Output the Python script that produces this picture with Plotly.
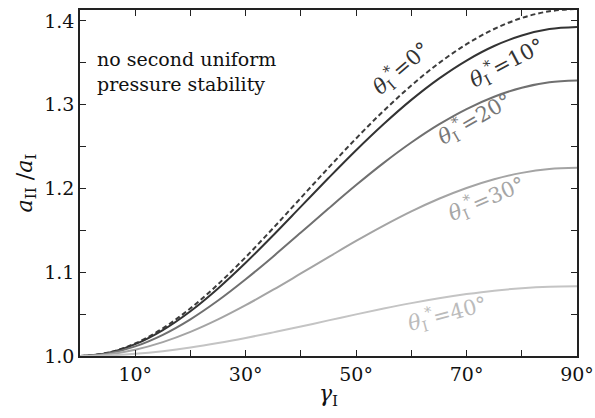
import plotly.graph_objects as go

gamma = [0, 5, 10, 15, 20, 25, 30, 35, 40, 45, 50, 55, 60, 65, 70, 75, 80, 85, 90]

ratio_theta0 = [1.0000, 1.0038, 1.0150, 1.0330, 1.0569, 1.0856, 1.1180, 1.1528, 1.1888, 1.2247,
                1.2597, 1.2927, 1.3229, 1.3496, 1.3722, 1.3903, 1.4035, 1.4115, 1.4142]
ratio_theta10 = [1.0000, 1.0036, 1.0141, 1.0310, 1.0535, 1.0807, 1.1113, 1.1442, 1.1783, 1.2124,
                 1.2456, 1.2769, 1.3057, 1.3311, 1.3527, 1.3700, 1.3825, 1.3902, 1.3927]
ratio_theta20 = [1.0000, 1.0029, 1.0115, 1.0253, 1.0438, 1.0662, 1.0916, 1.1189, 1.1474, 1.1760,
                 1.2040, 1.2305, 1.2548, 1.2764, 1.2948, 1.3095, 1.3202, 1.3267, 1.3289]
ratio_theta30 = [1.0000, 1.0019, 1.0075, 1.0166, 1.0288, 1.0437, 1.0607, 1.0791, 1.0985, 1.1180,
                 1.1373, 1.1556, 1.1726, 1.1877, 1.2006, 1.2110, 1.2186, 1.2232, 1.2247]
ratio_theta40 = [1.0000, 1.0007, 1.0026, 1.0058, 1.0101, 1.0154, 1.0215, 1.0282, 1.0352, 1.0425,
                 1.0497, 1.0566, 1.0631, 1.0689, 1.0739, 1.0780, 1.0809, 1.0827, 1.0833]

x_tickvals = [10, 20, 30, 40, 50, 60, 70, 80, 90]
x_ticktext = ["10°", "", "30°", "", "50°", "", "70°", "", "90°"]
y_tickvals = [1.0, 1.05, 1.1, 1.15, 1.2, 1.25, 1.3, 1.35, 1.4]
y_ticktext = ["1.0", "", "1.1", "", "1.2", "", "1.3", "", "1.4"]

series = [
    ("θ*=0°", ratio_theta0, "#3c3c3c", "5px,3px"),
    ("θ*=10°", ratio_theta10, "#333333", "solid"),
    ("θ*=20°", ratio_theta20, "#707070", "solid"),
    ("θ*=30°", ratio_theta30, "#a4a4a4", "solid"),
    ("θ*=40°", ratio_theta40, "#c4c4c4", "solid"),
]

# label text, x, y, angle, color
labels = [
    ("0°", 58.0, 1.344, -41, "#333333"),
    ("10°", 77.3, 1.351, -28, "#333333"),
    ("20°", 71.5, 1.284, -30, "#777777"),
    ("30°", 73.7, 1.1885, -23, "#a6a6a6"),
    ("40°", 66.6, 1.051, -15, "#bbbbbb"),
]

FONT = "DejaVu Serif"

fig = go.Figure()
for name, vals, color, dash in series:
    fig.add_trace(go.Scatter(
        x=gamma, y=vals, mode="lines", name=name,
        line=dict(color=color, width=2, dash=dash, shape="spline"),
        showlegend=False,
    ))

for txt, lx, ly, ang, col in labels:
    fig.add_annotation(
        x=lx, y=ly, xref="x", yref="y", showarrow=False,
        text="<i>θ</i><sub>I</sub><sup>*</sup>=" + txt,
        textangle=ang, font=dict(family=FONT, size=21, color=col),
    )

fig.add_annotation(
    x=0.03, y=0.895, xref="paper", yref="paper", xanchor="left", yanchor="top",
    showarrow=False, align="left",
    text="no second uniform<br>pressure stability",
    font=dict(family=FONT, size=19, color="#111111"),
)

axis_common = dict(
    showline=True, linecolor="#222222", linewidth=1.5, mirror="ticks",
    ticks="inside", ticklen=6, tickwidth=1, tickcolor="#222222",
    showgrid=False, zeroline=False,
    tickfont=dict(family=FONT, size=19, color="#111111"),
)

fig.update_layout(
    width=595, height=418,
    margin=dict(l=80, r=18, t=10, b=62),
    paper_bgcolor="white", plot_bgcolor="white",
    font=dict(family=FONT),
    xaxis=dict(range=[0, 90], tickmode="array", tickvals=x_tickvals, ticktext=x_ticktext,
               title=dict(text="<i>γ</i><sub>I</sub>", font=dict(family=FONT, size=22, color="#111111"),
                          standoff=2),
               automargin=False, **axis_common),
    yaxis=dict(range=[1.0, 1.413], tickmode="array", tickvals=y_tickvals, ticktext=y_ticktext,
               title=dict(text="<i>a</i><sub>II</sub> /<i>a</i><sub>I</sub>",
                          font=dict(family=FONT, size=22, color="#111111"), standoff=6),
               automargin=False, **axis_common),
)

fig.write_html("out.html")
